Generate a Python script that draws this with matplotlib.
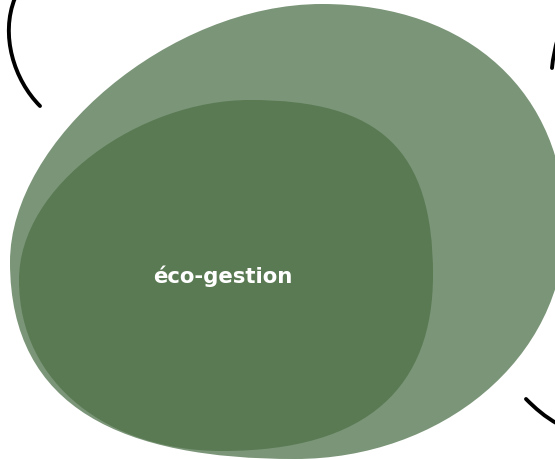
import matplotlib
matplotlib.use("Agg")
import matplotlib.pyplot as plt
from matplotlib.path import Path
from matplotlib.patches import PathPatch

# Data
set_labels = ["", "éco-gestion"]
set_colors = ["#7A9577", "#5A7A53"]

# Blob outlines (anchor, handle-in, handle-out) in pixel coordinates of the canvas
outer_anchors = [(322, 4), (565, 225), (295, 459), (10, 262)]
outer_handles = [((170, 4), (470, 4)), ((565, 95), (565, 360)), ((440, 459), (125, 459)), ((10, 410), (10, 140))]
inner_anchors = [(250, 100), (433, 275), (222, 451), (19, 280)]
inner_handles = [((140, 100), (380, 100)), ((433, 150), (433, 385)), ((370, 451), (110, 451)), ((19, 385), (19, 185))]
text_pos = (223, 283)

W, H = 555, 459
fig = plt.figure(figsize=(W / 100, H / 100), dpi=100)
ax = fig.add_axes([0, 0, 1, 1])
ax.set_xlim(0, W)
ax.set_ylim(H, 0)
ax.axis("off")


def blob(anchors, handles):
    verts = [anchors[0]]
    codes = [Path.MOVETO]
    n = len(anchors)
    for i in range(n):
        j = (i + 1) % n
        verts += [handles[i][1], handles[j][0], anchors[j]]
        codes += [Path.CURVE4] * 3
    return Path(verts, codes)


ax.add_patch(PathPatch(blob(outer_anchors, outer_handles), facecolor=set_colors[0], edgecolor="none"))
ax.add_patch(PathPatch(blob(inner_anchors, inner_handles), facecolor=set_colors[1], edgecolor="none"))

# decorative arcs
arcs = [
    [(15, -2), (0, 35), (14, 80), (40, 106)],
    [(552, 68), (553, 58), (555, 48), (558, 38)],
    [(526, 399), (535, 408), (545, 417), (558, 424)],
]
for a in arcs:
    ax.add_patch(PathPatch(Path(a, [Path.MOVETO] + [Path.CURVE4] * 3), facecolor="none",
                           edgecolor="black", lw=2.8, capstyle="round"))

ax.text(text_pos[0], text_pos[1], set_labels[1], color="white", fontsize=15.3,
        fontweight="bold", family=["DejaVu Sans"], ha="center", va="baseline")

fig.savefig("out.png", dpi=100)
